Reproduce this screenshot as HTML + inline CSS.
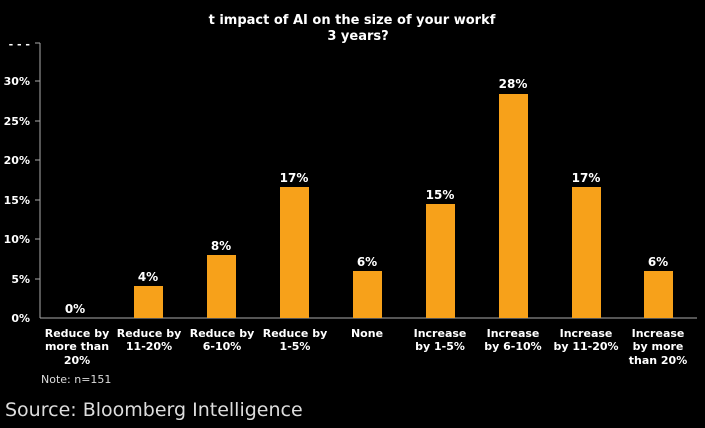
<!DOCTYPE html>
<html><head><style>
body{margin:0;background:#000;}
svg{display:block;font-family:"DejaVu Sans","Liberation Sans",sans-serif;}
</style></head><body>
<svg width="705" height="428" viewBox="0 0 705 428">
<rect width="705" height="428" fill="#000"/>
<g fill="#fff" font-weight="bold" text-anchor="middle" font-size="13">
<text x="352" y="24">t impact of AI on the size of your workf</text>
<text x="358" y="40">3 years?</text>
</g>
<line x1="40" y1="43" x2="40" y2="318" stroke="#aaa" stroke-width="1"/>
<line x1="40" y1="318" x2="697" y2="318" stroke="#aaa" stroke-width="1"/>
<g fill="#fff" font-weight="bold" font-size="11" text-anchor="end">
<text x="30" y="48">- - -</text>
<text x="30" y="85">30%</text>
<text x="30" y="125">25%</text>
<text x="30" y="164">20%</text>
<text x="30" y="204">15%</text>
<text x="30" y="243">10%</text>
<text x="30" y="283">5%</text>
<text x="30" y="322">0%</text>
</g>
<g stroke="#aaa">
<line x1="35" y1="81" x2="40" y2="81"/><line x1="35" y1="121" x2="40" y2="121"/>
<line x1="35" y1="160" x2="40" y2="160"/><line x1="35" y1="200" x2="40" y2="200"/>
<line x1="35" y1="239" x2="40" y2="239"/><line x1="35" y1="279" x2="40" y2="279"/>
<line x1="35" y1="43" x2="40" y2="43"/>
</g>
<g fill="#f7a11a">
<rect x="134" y="286" width="29" height="32"/>
<rect x="207" y="255" width="29" height="63"/>
<rect x="280" y="187" width="29" height="131"/>
<rect x="353" y="271" width="29" height="47"/>
<rect x="426" y="204" width="29" height="114"/>
<rect x="499" y="94" width="29" height="224"/>
<rect x="572" y="187" width="29" height="131"/>
<rect x="644" y="271" width="29" height="47"/>
</g>
<g fill="#fff" font-weight="bold" font-size="12" text-anchor="middle">
<text x="75" y="313">0%</text>
<text x="148" y="281">4%</text>
<text x="221" y="250">8%</text>
<text x="294" y="182">17%</text>
<text x="367" y="266">6%</text>
<text x="440" y="199">15%</text>
<text x="513" y="88">28%</text>
<text x="586" y="182">17%</text>
<text x="658" y="266">6%</text>
</g>
<g fill="#fff" font-weight="bold" font-size="11" text-anchor="middle">
<text x="77" y="337">Reduce by</text><text x="77" y="350">more than</text><text x="77" y="364">20%</text>
<text x="149" y="337">Reduce by</text><text x="149" y="350">11-20%</text>
<text x="222" y="337">Reduce by</text><text x="222" y="350">6-10%</text>
<text x="295" y="337">Reduce by</text><text x="295" y="350">1-5%</text>
<text x="367" y="337">None</text>
<text x="440" y="337">Increase</text><text x="440" y="350">by 1-5%</text>
<text x="513" y="337">Increase</text><text x="513" y="350">by 6-10%</text>
<text x="586" y="337">Increase</text><text x="586" y="350">by 11-20%</text>
<text x="658" y="337">Increase</text><text x="658" y="350">by more</text><text x="658" y="364">than 20%</text>
</g>
<text x="41" y="383" fill="#ddd" font-size="11">Note: n=151</text>
<text x="5" y="416" fill="#ddd" font-size="19">Source: Bloomberg Intelligence</text>
</svg>
</body></html>
